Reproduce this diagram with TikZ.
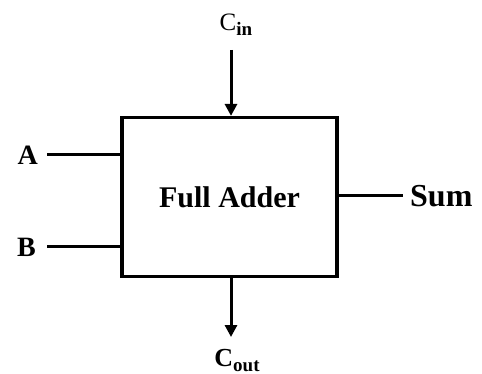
\documentclass[tikz,border=0pt]{standalone}
\usepackage{fontspec}
\setmainfont{Liberation Serif}
\usetikzlibrary{arrows.meta}
\newcommand{\subtxt}[1]{\raisebox{-5pt}{\fontsize{19}{19}\selectfont\bfseries #1}}
\begin{document}
\begin{tikzpicture}[x=1pt,y=-1pt,
  wire/.style={line width=3pt},
  arr/.style={wire,-{Triangle[length=12pt,width=12pt]}},
  lbl/.style={font=\fontsize{28}{28}\selectfont\bfseries, inner sep=0pt}]
\useasboundingbox (0,0) rectangle (482,374);
\node[draw, line width=3.2pt, minimum width=215pt, minimum height=159pt, inner sep=0pt,
  lbl, font=\fontsize{30}{30}\selectfont\bfseries] (fa) at (229.5,197) {Full Adder};
\node[lbl, font=\fontsize{25}{25}\selectfont, anchor=base] (cin) at (236,31) {C\subtxt{in}};
\node[lbl, font=\fontsize{26}{26}\selectfont\bfseries, anchor=base] (cout) at (237,366) {C\subtxt{out}};
\node[lbl, anchor=base east] (a) at (38,165) {A};
\node[lbl, anchor=base east] (b) at (36,256) {B};
\node[lbl, font=\fontsize{32}{32}\selectfont\bfseries, anchor=base west] (sum) at (410,207) {Sum};
\coordinate (cinS) at (231,50);
\coordinate (coutE) at (231,337);
\draw[arr] (cinS) -- (cinS |- fa.north);
\draw[arr] (coutE |- fa.south) -- (coutE);
\draw[wire] (47,155) -- (fa.west |- 0,155);
\draw[wire] (47,247) -- (fa.west |- 0,247);
\draw[wire] (fa.east |- 0,196) -- (403,196);
\end{tikzpicture}
\end{document}
